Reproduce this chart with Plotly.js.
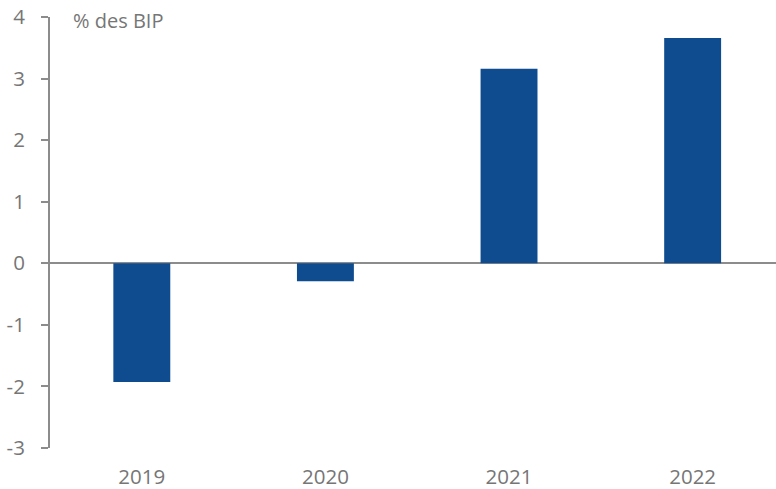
<!DOCTYPE html>
<html><head><meta charset="utf-8">
<script src="https://cdn.plot.ly/plotly-3.0.1.min.js"></script>
<style>html,body{margin:0;padding:0;background:#fff}#c{width:776px;height:489px}</style>
</head><body><div id="c"></div>
<script>
const years = ['2019', '2020', '2021', '2022'];
const values = [-1.93, -0.29, 3.16, 3.66];
const yTicks = [-3, -2, -1, 0, 1, 2, 3, 4];
const unitLabel = '% des BIP';

const gray = '#767676';
const fontFam = 'Open Sans, Liberation Sans, sans-serif';

Plotly.newPlot('c', [{
  type: 'bar',
  x: years,
  y: values,
  marker: {color: '#0f4c8f'},
  width: 0.31,
  hoverinfo: 'skip'
}], {
  width: 776, height: 489,
  margin: {l: 50, r: 0, t: 17, b: 41},
  paper_bgcolor: '#fff', plot_bgcolor: '#fff',
  showlegend: false,
  font: {family: fontFam, color: gray, size: 20},
  xaxis: {
    type: 'category',
    range: [-0.5, 3.454],
    showline: false, showgrid: false, zeroline: false,
    ticks: '', ticklabelstandoff: 14,
    tickfont: {size: 20.5, color: gray}
  },
  yaxis: {
    range: [-3, 4],
    tickvals: yTicks,
    ticktext: yTicks.map(String),
    showgrid: false,
    zeroline: true, zerolinecolor: '#8c8c8c', zerolinewidth: 2,
    showline: true, linecolor: '#8c8c8c', linewidth: 2,
    ticks: 'outside', ticklen: 7, tickcolor: '#8c8c8c', tickwidth: 2,
    ticklabelstandoff: 12,
    tickfont: {size: 20.5, color: gray}
  },
  annotations: [{
    text: unitLabel, xref: 'paper', yref: 'paper',
    x: 0.029, y: 0.992, xanchor: 'left', yanchor: 'middle',
    showarrow: false, font: {size: 20, color: gray}
  }]
}, {displayModeBar: false, staticPlot: true});
</script></body></html>
